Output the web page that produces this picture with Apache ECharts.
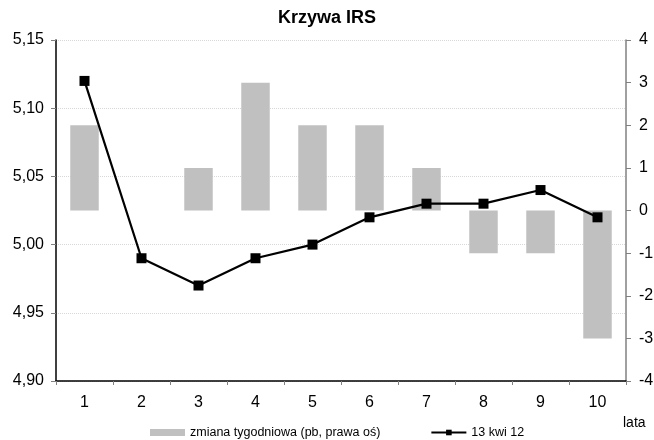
<!DOCTYPE html>
<html><head><meta charset="utf-8">
<script src="https://cdn.jsdelivr.net/npm/echarts@6/dist/echarts.min.js"></script>
<style>html,body{margin:0;padding:0;background:#fff;overflow:hidden}#c{width:654px;height:440px}</style>
</head><body><div id="c"></div>
<script>
const categories = ['1','2','3','4','5','6','7','8','9','10'];
const weeklyChange = [2, 0, 1, 3, 2, 2, 1, -1, -1, -3];
const irs = [5.12, 4.99, 4.97, 4.99, 5.00, 5.02, 5.03, 5.03, 5.04, 5.02];
const barName = 'zmiana tygodniowa (pb, prawa oś)';
const lineName = '13 kwi 12';
const xAxisName = 'lata';
const FONT = 'Liberation Sans, Arial, sans-serif';

const chart = echarts.init(document.getElementById('c'), null, {renderer:'canvas'});
chart.setOption({
  animation:false,
  backgroundColor:'#fff',
  title:{text:'Krzywa IRS', left:'center', top:9, padding:0, textStyle:{fontFamily:FONT, fontSize:18, fontWeight:'bold', color:'#000'}},
  grid:{left:56, right:28, top:40, bottom:59, containLabel:false, outerBoundsMode:'none'},
  legend:{
    top:426, left:150, padding:0, itemGap:50, itemWidth:35, itemHeight:7,
    textStyle:{fontFamily:FONT, fontSize:12.5, color:'#000'},
    data:[{name:barName, icon:'rect'}, {name:lineName}]
  },
  graphic:[{type:'text', left:623, top:416, style:{text:xAxisName, font:'14px ' + FONT, fill:'#000'}}],
  xAxis:{
    type:'category', data:categories, boundaryGap:true,
    axisLine:{onZero:false, lineStyle:{color:'#000', width:1.5}},
    axisTick:{show:true, length:4, lineStyle:{color:'#808080'}},
    axisLabel:{fontFamily:FONT, fontSize:16, color:'#000', margin:14},
    splitLine:{show:false}
  },
  yAxis:[
    {
      type:'value', min:4.9, max:5.15, interval:0.05, position:'left',
      axisLine:{show:true, lineStyle:{color:'#000', width:1.5}},
      axisTick:{show:true, length:5, lineStyle:{color:'#808080'}},
      axisLabel:{fontFamily:FONT, fontSize:16, color:'#000', margin:12, formatter:v=>v.toFixed(2).replace('.',',')},
      splitLine:{show:true, lineStyle:{color:'#d8d8d8', type:'dotted', width:1}}
    },
    {
      type:'value', min:-4, max:4, interval:1, position:'right',
      axisLine:{show:true, lineStyle:{color:'#808080', width:1.5}},
      axisTick:{show:true, length:5, lineStyle:{color:'#808080'}},
      axisLabel:{fontFamily:FONT, fontSize:16, color:'#000', margin:13},
      splitLine:{show:false}
    }
  ],
  series:[
    {
      name:barName, type:'bar', yAxisIndex:1, data:weeklyChange, barWidth:'50%',
      itemStyle:{color:'#c0c0c0', borderWidth:0}
    },
    {
      name:lineName, type:'line', yAxisIndex:0, data:irs,
      symbol:'rect', symbolSize:10,
      lineStyle:{color:'#000', width:2.2},
      itemStyle:{color:'#000'}
    }
  ]
});
</script></body></html>
